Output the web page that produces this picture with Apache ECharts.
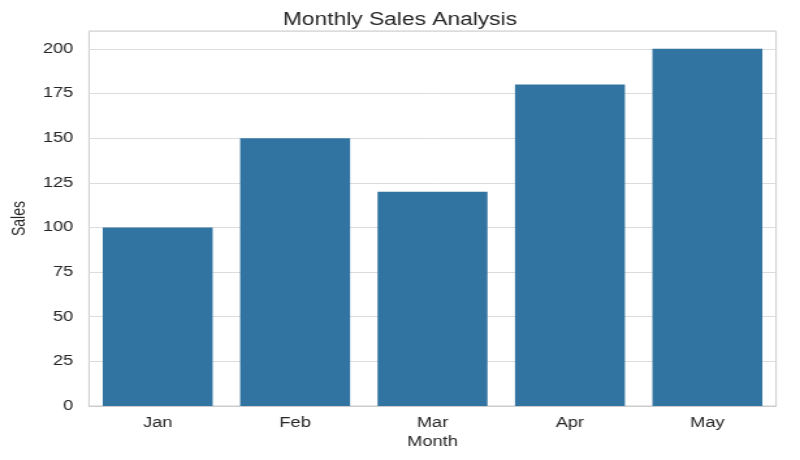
<!DOCTYPE html>
<html>
<head>
<meta charset="utf-8">
<script src="https://cdn.jsdelivr.net/npm/echarts@6/dist/echarts.min.js"></script>
<style>
html,body{margin:0;padding:0;background:#fff;overflow:hidden}
#wrap{width:800px;height:460px;overflow:hidden}
#c{width:615px;height:460px;transform:scaleX(1.3008);transform-origin:0 0}
</style>
</head>
<body>
<div id="wrap"><div id="c"></div></div>
<script>
var months = ['Jan', 'Feb', 'Mar', 'Apr', 'May'];
var sales = [100, 150, 120, 180, 200];

var FONT = 'Liberation Sans, Arial, Helvetica, sans-serif';
var chart = echarts.init(document.getElementById('c'), null, {renderer: 'canvas'});
chart.setOption({
  animation: false,
  backgroundColor: '#ffffff',
  title: {
    text: 'Monthly Sales Analysis',
    left: 'center',
    top: 6,
    textStyle: {fontFamily: FONT, fontSize: 17.5, fontWeight: 'normal', color: '#262626'}
  },
  grid: {left: 68.4, right: 18.4, top: 31, bottom: 54, show: true, borderColor: '#cccccc', borderWidth: 1, backgroundColor: 'transparent'},
  xAxis: {
    type: 'category',
    data: months,
    name: 'Month',
    nameLocation: 'middle',
    nameGap: 29,
    nameTextStyle: {fontFamily: FONT, fontSize: 14, color: '#262626'},
    axisLine: {show: true, lineStyle: {color: '#cccccc', width: 1}},
    axisTick: {show: false},
    axisLabel: {margin: 10, fontFamily: FONT, fontSize: 14, color: '#262626'},
    splitLine: {show: false}
  },
  yAxis: {
    type: 'value',
    min: 0,
    max: 210,
    interval: 25,
    name: 'Sales',
    nameLocation: 'middle',
    nameGap: 44,
    nameTextStyle: {fontFamily: FONT, fontSize: 14, color: '#262626'},
    axisLine: {show: false},
    axisTick: {show: false},
    axisLabel: {
      margin: 12,
      showMaxLabel: false,
      fontFamily: FONT, fontSize: 14, color: '#262626',
      formatter: function (v) { return v > 200 ? '' : String(v); }
    },
    splitLine: {show: true, lineStyle: {color: '#dcdcdc', width: 1}}
  },
  series: [{
    type: 'bar',
    data: sales,
    barCategoryGap: '20%',
    itemStyle: {color: '#3274a1'}
  }]
});
</script>
</body>
</html>
